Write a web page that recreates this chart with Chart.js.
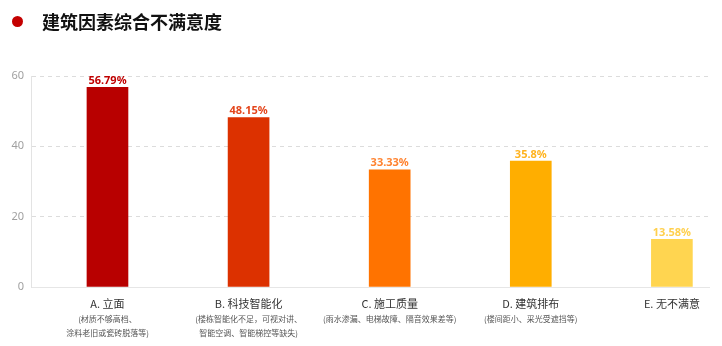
<!DOCTYPE html>
<html>
<head>
<meta charset="utf-8">
<script src="https://cdn.jsdelivr.net/npm/chart.js@4/dist/chart.umd.min.js"></script>
<style>
    html, body { margin: 0; padding: 0; background: #fff; }
    .wrap { position: relative; width: 722px; height: 346px; }
    .title {
        position: absolute; left: 12px; top: 8px;
        display: flex; align-items: center;
        font: bold 18px "Noto Sans CJK SC", sans-serif; color: #111;
    }
    .title .dot {
        width: 11px; height: 11px; border-radius: 50%;
        background: #c40000; margin-right: 19px;
    }
    canvas { position: absolute; left: 0; top: 0; }
</style>
</head>
<body>
<div class="wrap">
    <canvas id="chart" width="722" height="346"></canvas>
    <div class="title"><span class="dot"></span>建筑因素综合不满意度</div>
</div>
<script>
// 各因素不满意比例（%）
const categories = ['A. 立面', 'B. 科技智能化', 'C. 施工质量', 'D. 建筑排布', 'E. 无不满意'];
const notes = [
    ['(材质不够高档、', '涂料老旧或瓷砖脱落等)'],
    ['(楼栋智能化不足，可视对讲、', '智能空调、智能梯控等缺失)'],
    ['(雨水渗漏、电梯故障、隔音效果差等)'],
    ['(楼间距小、采光受遮挡等)'],
    []
];
const values = [56.79, 48.15, 33.33, 35.8, 13.58];
const valueLabels = ['56.79%', '48.15%', '33.33%', '35.8%', '13.58%'];
const yTicks = [0, 20, 40, 60];

const barColors = ['#b80000', '#dc3100', '#ff7300', '#ffae00', '#ffd550'];
const labelColors = ['#c00000', '#e4461c', '#ff8330', '#ffb31f', '#ffd04e'];

// 柱顶数值 + 底部分类说明
const labelsPlugin = {
    id: 'barLabels',
    afterDatasetsDraw(chart) {
        const { ctx } = chart;
        const meta = chart.getDatasetMeta(0);
        const xScale = chart.scales.x;
        const bottom = chart.chartArea.bottom;

        ctx.save();
        ctx.textAlign = 'center';

        ctx.font = 'bold 11px "Noto Sans", sans-serif';
        ctx.textBaseline = 'bottom';
        meta.data.forEach((bar, i) => {
            ctx.fillStyle = labelColors[i];
            ctx.fillText(valueLabels[i], bar.x, bar.y - 1);
        });

        ctx.textBaseline = 'middle';
        categories.forEach((name, i) => {
            const x = xScale.getPixelForValue(i);
            ctx.fillStyle = '#333';
            ctx.font = '11px "Noto Sans CJK SC", sans-serif';
            ctx.fillText(name, x, bottom + 17);
            ctx.fillStyle = '#555';
            ctx.font = '8px "Noto Sans CJK SC", sans-serif';
            notes[i].forEach((line, k) => {
                ctx.fillText(line, x, bottom + 32 + k * 14);
            });
        });
        ctx.restore();
    }
};

new Chart(document.getElementById('chart'), {
    type: 'bar',
    data: {
        datasets: [{
            data: values.map((v, i) => ({ x: i, y: v })),
            backgroundColor: barColors,
            barThickness: 41
        }]
    },
    options: {
        responsive: false,
        animation: false,
        layout: { padding: { top: 76, right: 13, left: 0, bottom: 0 } },
        plugins: {
            legend: { display: false },
            tooltip: { enabled: false }
        },
        scales: {
            x: {
                type: 'linear',
                offset: false,
                min: -0.542,
                max: 4.263,
                grid: { display: false, offset: false },
                border: { color: '#e6e6e6', width: 1 },
                ticks: { display: false },
                afterFit: (scale) => { scale.height = 59; }
            },
            y: {
                min: 0,
                max: 60,
                afterBuildTicks: (scale) => { scale.ticks = yTicks.map(v => ({ value: v })); },
                grid: { color: '#dcdcdc', drawTicks: false },
                border: { color: '#e3e3e3', dash: [4, 4] },
                ticks: {
                    color: '#a0a0a0',
                    padding: 7,
                    font: { family: '"Noto Sans", sans-serif', size: 11 }
                },
                afterFit: (scale) => { scale.width = 31; }
            }
        }
    },
    plugins: [labelsPlugin]
});
</script>
</body>
</html>
